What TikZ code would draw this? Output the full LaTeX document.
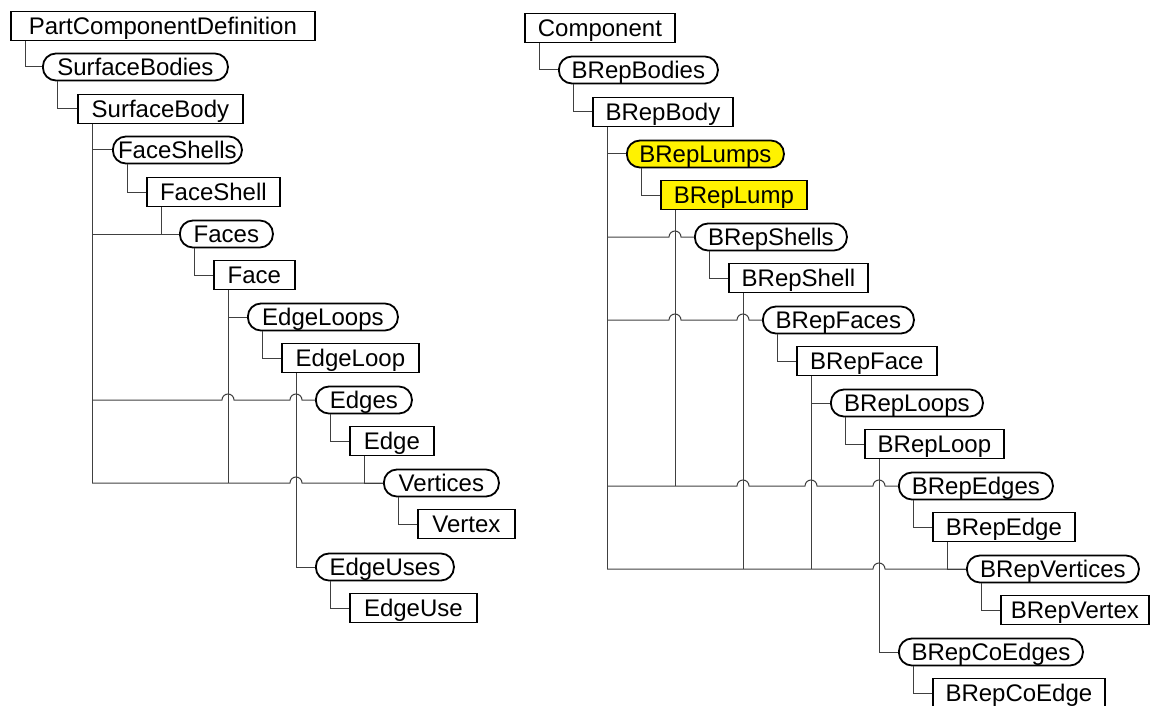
\documentclass[tikz,border=0pt]{standalone}
\usepackage{fontspec}
\setmainfont{Liberation Sans}
\usetikzlibrary{calc}
\newcommand\hoparc{arc[start angle=180,end angle=0,radius=6pt]}

\begin{document}
\begin{tikzpicture}[x=1pt,y=-1pt,
  item/.style={draw,line width=1.8pt,anchor=west,inner sep=0pt,
    text height=17pt,text depth=0pt,font=\fontsize{24}{27}\selectfont},
  obj/.style={item,minimum height=29,minimum width=#1},
  coll/.style={item,rounded corners=13pt,minimum height=27,minimum width=#1},
  hl/.style={fill=yellow},
  link/.style={draw=black!75,line width=1pt}]
\useasboundingbox (0,0) rectangle (1151,706);

\node[obj=304] (pcd) at (10,26) {PartComponentDefinition};
\node[coll=185] (sbs) at (42,67) {SurfaceBodies};
\node[obj=165] (sb) at (77,109) {SurfaceBody};
\node[coll=129] (fss) at (112,150) {FaceShells};
\node[obj=133] (fs) at (146,192) {FaceShell};
\node[coll=93] (fcs) at (179,234) {Faces};
\node[obj=81] (fc) at (213,275) {Face};
\node[coll=150] (els) at (247,317) {EdgeLoops};
\node[obj=137] (el) at (281,358) {EdgeLoop};
\node[coll=96] (eds) at (315,400) {Edges};
\node[obj=84] (ed) at (349,441) {Edge};
\node[coll=115] (vts) at (383,483) {Vertices};
\node[obj=97] (vt) at (417,524) {Vertex};
\node[coll=138] (eus) at (315,567) {EdgeUses};
\node[obj=127] (eu) at (349,608) {EdgeUse};

\node[obj=150] (cmp) at (524,28) {Component};
\node[coll=159] (bbs) at (558,70) {BRepBodies};
\node[obj=140] (bb) at (592,112) {BRepBody};
\node[coll=157,hl] (bls) at (626,154) {BRepLumps};
\node[obj=146,hl] (bl) at (660,195) {BRepLump};
\node[coll=152] (bss) at (694,237) {BRepShells};
\node[obj=139] (bs) at (728,278) {BRepShell};
\node[coll=151] (bfs) at (762,320) {BRepFaces};
\node[obj=140] (bf) at (796,361) {BRepFace};
\node[coll=152] (blps) at (830,403) {BRepLoops};
\node[obj=139] (blp) at (864,444) {BRepLoop};
\node[coll=154] (bes) at (898,486) {BRepEdges};
\node[obj=142] (be) at (932,527) {BRepEdge};
\node[coll=172] (bvs) at (966,569) {BRepVertices};
\node[obj=148] (bv) at (1000,610) {BRepVertex};
\node[coll=184] (bces) at (898,652) {BRepCoEdges};
\node[obj=172] (bce) at (932,693) {BRepCoEdge};

\foreach \p/\c in {pcd/sbs,sbs/sb,fss/fs,fs/fcs,fcs/fc,els/el,el/eus,eds/ed,ed/vts,vts/vt,eus/eu,
    cmp/bbs,bbs/bb,bls/bl,bss/bs,bfs/bf,blps/blp,blp/bces,bes/be,be/bvs,bvs/bv,bces/bce}
  \draw[link] ([xshift=15]\p.south west) |- (\c.west);
\foreach \n in {sb,fc,el,bb,bl,bs,bf,blp}
  \coordinate (v\n) at ([xshift=15]\n.south west);

\draw[link] (vsb) -- (vsb |- vts.west);
\draw[link] (vsb |- fss.west) -- (fss.west);
\draw[link] (vsb |- fcs.west) -- (fcs.west);
\draw[link] (vsb |- eds.west) -- ($(vfc |- eds.west)-(6pt,0)$) \hoparc
  -- ($(vel |- eds.west)-(6pt,0)$) \hoparc -- (eds.west);
\draw[link] (vsb |- vts.west) -- ($(vel |- vts.west)-(6pt,0)$) \hoparc -- (vts.west);
\draw[link] (vfc) -- (vfc |- vts.west);
\draw[link] (vfc |- els.west) -- (els.west);

\draw[link] (vbb) -- (vbb |- bvs.west);
\draw[link] (vbb |- bls.west) -- (bls.west);
\draw[link] (vbb |- bss.west) -- ($(vbl |- bss.west)-(6pt,0)$) \hoparc -- (bss.west);
\draw[link] (vbb |- bfs.west) -- ($(vbl |- bfs.west)-(6pt,0)$) \hoparc
  -- ($(vbs |- bfs.west)-(6pt,0)$) \hoparc -- (bfs.west);
\draw[link] (vbb |- bes.west) -- ($(vbs |- bes.west)-(6pt,0)$) \hoparc
  -- ($(vbf |- bes.west)-(6pt,0)$) \hoparc -- ($(vblp |- bes.west)-(6pt,0)$) \hoparc -- (bes.west);
\draw[link] (vbb |- bvs.west) -- ($(vblp |- bvs.west)-(6pt,0)$) \hoparc -- (bvs.west);
\draw[link] (vbl) -- (vbl |- bes.west);
\draw[link] (vbs) -- (vbs |- bvs.west);
\draw[link] (vbf) -- (vbf |- bvs.west);
\draw[link] (vbf |- blps.west) -- (blps.west);
\end{tikzpicture}
\end{document}
